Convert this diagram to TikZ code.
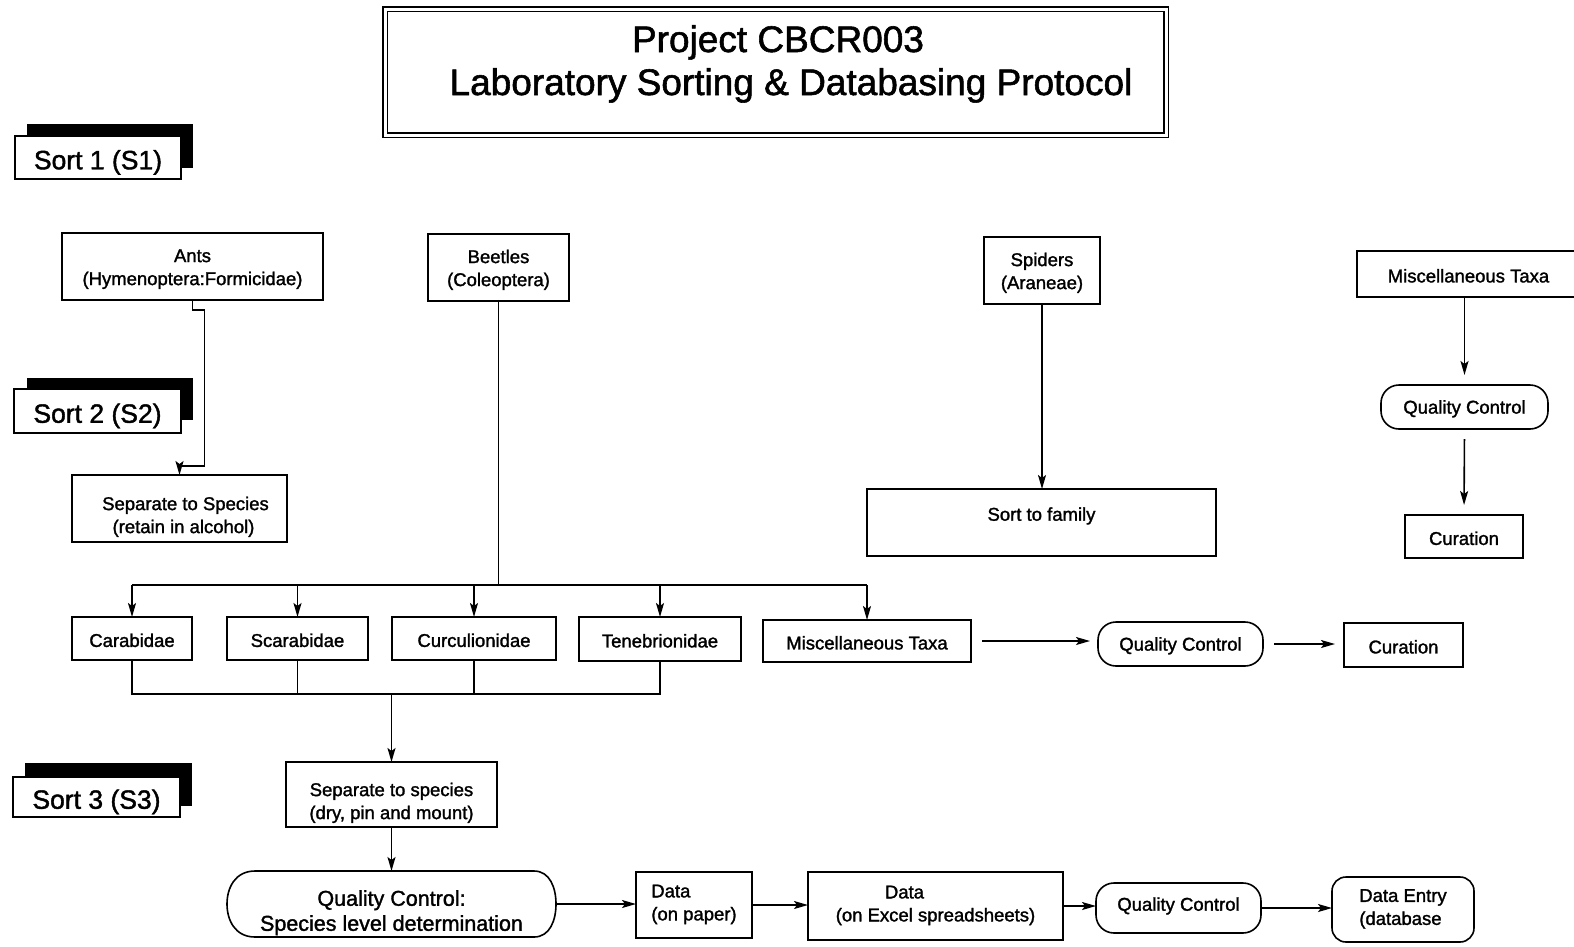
\documentclass[tikz,border=0pt]{standalone}
\usepackage{fontspec}
\setmainfont{Liberation Sans}[FakeBold=1.5]
\usetikzlibrary{arrows.meta,calc}
\newcommand\bxfont{\fontsize{18.5}{23}\selectfont}
\newcommand\sortfont{\fontsize{26.5}{30}\selectfont}
\newcommand\ttlfont{\fontsize{37}{43}\selectfont}
\newcommand\qcfont{\fontsize{21.5}{25}\selectfont}
\begin{document}
\begin{tikzpicture}[x=1pt,y=-1pt,
  ln/.style={line width=1.6pt},
  sz/.style 2 args={minimum width=#1pt, minimum height=#2pt},
  box/.style={draw, line width=1.6pt, inner sep=0pt, outer sep=0pt, align=center, font=\bxfont},
  rbox/.style={box, rounded corners=18pt},
  arr/.style={ln, -{Stealth[length=14pt,width=8pt,inset=3pt]}},
  sortbox/.style={draw, fill=white, line width=1.6pt, font=\sortfont, inner sep=0pt, outer sep=0pt},
  sortshade/.style={fill=black, inner sep=0pt, outer sep=0pt}]
\useasboundingbox (0,0) rectangle (1574,946);
\fill[white] (0,0) rectangle (1574,946);

% title
\node[draw, line width=1.6pt, double, double distance=3pt, sz={781}{126}, inner sep=0pt] (title) at (775.5,72) {};
\node[font=\ttlfont, align=center, anchor=north, inner sep=0pt] (titletext) at (791,25)
  {Project CBCR003\hspace*{26pt}\\Laboratory Sorting \& Databasing Protocol};

% sort labels
\node[sortshade, sz={166}{44}] (s1sh) at (110,146) {};
\node[sortbox, sz={166}{43}] (s1) at (98,157.5) {\rule{0pt}{29pt}Sort 1 (S1)};
\node[sortshade, sz={166}{42}] (s2sh) at (110,399) {};
\node[sortbox, sz={167}{44}] (s2) at (97.5,411) {\rule{0pt}{29pt}Sort 2 (S2)};
\node[sortshade, sz={167}{43}] (s3sh) at (108.5,784.5) {};
\node[sortbox, sz={167}{40}] (s3) at (96.5,797) {\rule{0pt}{29pt}Sort 3 (S3)};

% top row
\node[box, sz={261}{67}] (ants) at (192.5,266.5) {\rule{0pt}{18pt}Ants\\(Hymenoptera:Formicidae)};
\node[box, sz={141}{67}] (beetles) at (498.5,267.5) {\rule{0pt}{18pt}Beetles\\(Coleoptera)};
\node[box, sz={116}{67}] (spiders) at (1042,270.5) {\rule{0pt}{18pt}Spiders\\(Araneae)};
\node[box, sz={223}{46}] (misctop) at (1468.5,274) {\rule{0pt}{17pt}Miscellaneous Taxa};
\node[rbox, sz={167}{44}] (qctop) at (1464.5,407) {\rule{0pt}{17pt}Quality Control};
\node[box, sz={118}{43}] (curtop) at (1464,536.5) {\rule{0pt}{17pt}Curation};

\node[box, sz={215}{67}] (sep1) at (179.5,508.5) {\rule{0pt}{30pt}\hspace*{12pt}Separate to Species\\\hspace*{8pt}(retain in alcohol)};
\node[box, sz={349}{67}] (family) at (1041.5,522.5) {Sort to family\rule[-17pt]{0pt}{17pt}};

% family row
\node[box, sz={120}{43}] (carab) at (132,638.5) {\rule{0pt}{17pt}Carabidae};
\node[box, sz={141}{43}] (scarab) at (297.5,638.5) {\rule{0pt}{17pt}Scarabidae};
\node[box, sz={164}{43}] (curc) at (474,638.5) {\rule{0pt}{17pt}Curculionidae};
\node[box, sz={162}{44}] (teneb) at (660,639) {\rule{0pt}{17pt}Tenebrionidae};
\node[box, sz={208}{42}] (miscrow) at (867,641) {\rule{0pt}{17pt}Miscellaneous Taxa};
\node[rbox, sz={165}{44}] (qcrow) at (1180.5,644) {\rule{0pt}{17pt}Quality Control};
\node[box, sz={119}{44}] (currow) at (1403.5,645) {\rule{0pt}{17pt}Curation};

% sort 3
\node[box, sz={211}{65}] (sep2) at (391.5,794.5) {\rule{0pt}{30pt}Separate to species\\(dry, pin and mount)};
\node[inner sep=0pt, outer sep=0pt, sz={329}{66}, align=center, font=\qcfont] (qcsp) at (391.5,904)
  {\rule{0pt}{33pt}Quality Control:\\Species level determination};
\draw[ln] ([xshift=28pt]qcsp.north west) -- ([xshift=-22pt]qcsp.north east)
  .. controls ([xshift=-6pt]qcsp.north east) and ([yshift=16pt]qcsp.east) .. (qcsp.east)
  .. controls ([yshift=-16pt]qcsp.east) and ([xshift=-6pt]qcsp.south east) .. ([xshift=-22pt]qcsp.south east)
  -- ([xshift=28pt]qcsp.south west)
  .. controls ([xshift=8pt]qcsp.south west) and ([yshift=-16pt]qcsp.west) .. (qcsp.west)
  .. controls ([yshift=16pt]qcsp.west) and ([xshift=8pt]qcsp.north west) .. cycle;

\node[box, sz={116}{66}, align=left] (paper) at (694,905) {Data\\(on paper)\rule[-5pt]{0pt}{5pt}};
\node[box, sz={255}{68}] (excel) at (935.5,906) {Data\hspace*{62pt}\\(on Excel spreadsheets)\rule[-5pt]{0pt}{5pt}};
\node[rbox, sz={165}{50}] (qcbot) at (1178.5,908) {Quality Control\rule[-8pt]{0pt}{8pt}};
\node[box, rounded corners=14pt, sz={142}{65}, align=left] (entry) at (1403,909.5) {Data Entry\\(database\rule[-5pt]{0pt}{5pt}};

% connectors
\draw[arr] (ants.south) -- ++(0,10) -- ++(12,0) -- ++(0,156) -| (sep1.north);

\coordinate (bus) at (498.5,585);
\draw[ln] (beetles.south) -- (bus);
\draw[ln] (carab.north |- bus) -- (miscrow.north |- bus);
\foreach \n in {carab,scarab,curc,teneb,miscrow}
  \draw[arr] (\n.north |- bus) -- (\n.north);

\coordinate (bus2) at (391.5,694);
\draw[ln] (carab.south) -- (carab.south |- bus2) -- (teneb.south |- bus2) -- (teneb.south);
\draw[ln] (scarab.south) -- (scarab.south |- bus2);
\draw[ln] (curc.south) -- (curc.south |- bus2);
\draw[arr] (bus2) -- (sep2.north);

\draw[arr, shorten <=11pt, shorten >=8pt] (miscrow.east) -- (miscrow.east -| qcrow.west);
\draw[arr, shorten <=11pt, shorten >=9pt] (qcrow.east) -- (qcrow.east -| currow.west);

\draw[arr] (sep2.south) -- (qcsp.north);
\draw[arr] (qcsp.east) -- (qcsp.east -| paper.west);
\draw[arr] (paper.east) -- (paper.east -| excel.west);
\draw[arr] (excel.east) -- (excel.east -| qcbot.west);
\draw[arr] (qcbot.east) -- (qcbot.east -| entry.west);

\draw[arr] (spiders.south) -- (spiders.south |- family.north);
\draw[arr, shorten >=10pt] (qctop.north |- misctop.south) -- (qctop.north);
\draw[arr, shorten <=10pt, shorten >=10pt] (qctop.south) -- (curtop.north);
\end{tikzpicture}
\end{document}
